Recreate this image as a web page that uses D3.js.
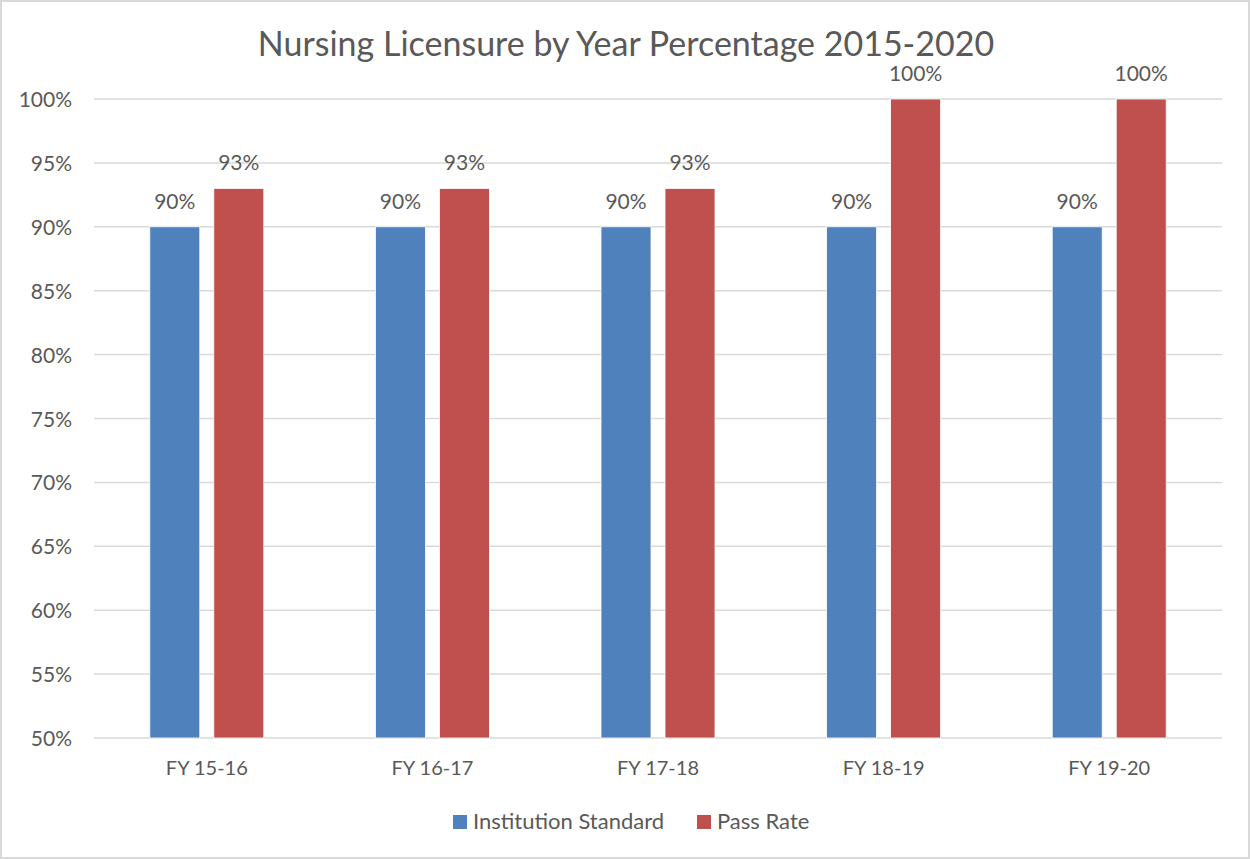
<!DOCTYPE html>
<html>
<head>
<meta charset="utf-8">
<script src="https://cdn.jsdelivr.net/npm/d3@7"></script>
<style>
  html, body { margin: 0; padding: 0; background: #fff; }
  svg { display: block; }
  text { font-family: Lato, "Open Sans", sans-serif; fill: #595959; }
</style>
</head>
<body>
<script>
const categories = ["FY 15-16", "FY 16-17", "FY 17-18", "FY 18-19", "FY 19-20"];
const seriesNames = ["Institution Standard", "Pass Rate"];
const institutionStandard = [0.90, 0.90, 0.90, 0.90, 0.90];
const passRate = [0.93, 0.93, 0.93, 1.00, 1.00];
const yTicks = [0.50, 0.55, 0.60, 0.65, 0.70, 0.75, 0.80, 0.85, 0.90, 0.95, 1.00];
const colors = ["#4F81BD", "#C0504D"];

const W = 1250, H = 859;
const plot = { left: 94, right: 1222, top: 99, bottom: 738 };

const svg = d3.select("body").append("svg").attr("width", W).attr("height", H);

svg.append("rect").attr("x", 1).attr("y", 1).attr("width", W - 2).attr("height", H - 2)
  .attr("fill", "#fff").attr("stroke", "#d9d9d9").attr("stroke-width", 2);

const y = d3.scaleLinear().domain([0.5, 1.0]).range([plot.bottom, plot.top]);
const p0 = 1 - 114 / 225.6;
const x0 = d3.scaleBand().domain(categories).range([plot.left, plot.right])
  .paddingInner(p0).paddingOuter(p0 / 2);
const x1 = d3.scaleBand().domain(seriesNames).range([0, x0.bandwidth()]).paddingInner(14 / 64);

// gridlines
svg.append("g").selectAll("line").data(yTicks).join("line")
  .attr("x1", plot.left).attr("x2", plot.right)
  .attr("y1", d => y(d)).attr("y2", d => y(d))
  .attr("stroke", "#d9d9d9").attr("stroke-width", 1.5);

// y axis labels
const yAxis = d3.axisLeft(y).tickValues(yTicks).tickFormat(d3.format(".0%")).tickSize(0).tickPadding(0);
const gy = svg.append("g").attr("transform", `translate(72,0)`).call(yAxis);
gy.select(".domain").remove();
gy.selectAll("text").attr("font-size", 21).attr("fill", "#595959")
  .attr("font-family", "Lato, sans-serif").attr("dy", "0.36em");

// x axis labels
const xAxis = d3.axisBottom(x0).tickSize(0).tickPadding(0);
const gx = svg.append("g").attr("transform", `translate(0,775)`).call(xAxis);
gx.select(".domain").remove();
gx.selectAll("text").attr("font-size", 20).attr("fill", "#595959")
  .attr("font-family", "Lato, sans-serif").attr("dy", 0);

// bars
const data = categories.map((c, i) => ({ cat: c, vals: [institutionStandard[i], passRate[i]] }));
const groups = svg.append("g").selectAll("g").data(data).join("g")
  .attr("transform", d => `translate(${x0(d.cat)},0)`);

groups.selectAll("rect").data(d => d.vals.map((v, j) => ({ name: seriesNames[j], v, j }))).join("rect")
  .attr("x", d => x1(d.name)).attr("width", x1.bandwidth())
  .attr("y", d => y(d.v)).attr("height", d => y(0.5) - y(d.v))
  .attr("fill", d => colors[d.j]).attr("stroke", "#fff").attr("stroke-width", 0.8);

groups.selectAll("text.lbl").data(d => d.vals.map((v, j) => ({ name: seriesNames[j], v, j }))).join("text")
  .attr("class", "lbl")
  .attr("x", d => x1(d.name) + x1.bandwidth() / 2)
  .attr("y", d => y(d.v) - 18)
  .attr("text-anchor", "middle").attr("font-size", 21)
  .text(d => d3.format(".0%")(d.v));

// title
svg.append("text").attr("x", 626).attr("y", 56).attr("text-anchor", "middle")
  .attr("font-size", 34).text("Nursing Licensure by Year Percentage 2015-2020");

// legend
const legendItems = [{ name: seriesNames[0], x: 453 }, { name: seriesNames[1], x: 697 }];
const lg = svg.append("g").selectAll("g").data(legendItems).join("g")
  .attr("transform", d => `translate(${d.x},815)`);
lg.append("rect").attr("width", 14).attr("height", 14).attr("fill", (d, i) => colors[i]);
lg.append("text").attr("x", 20).attr("y", 14).attr("font-size", 22).text(d => d.name);
</script>
</body>
</html>
